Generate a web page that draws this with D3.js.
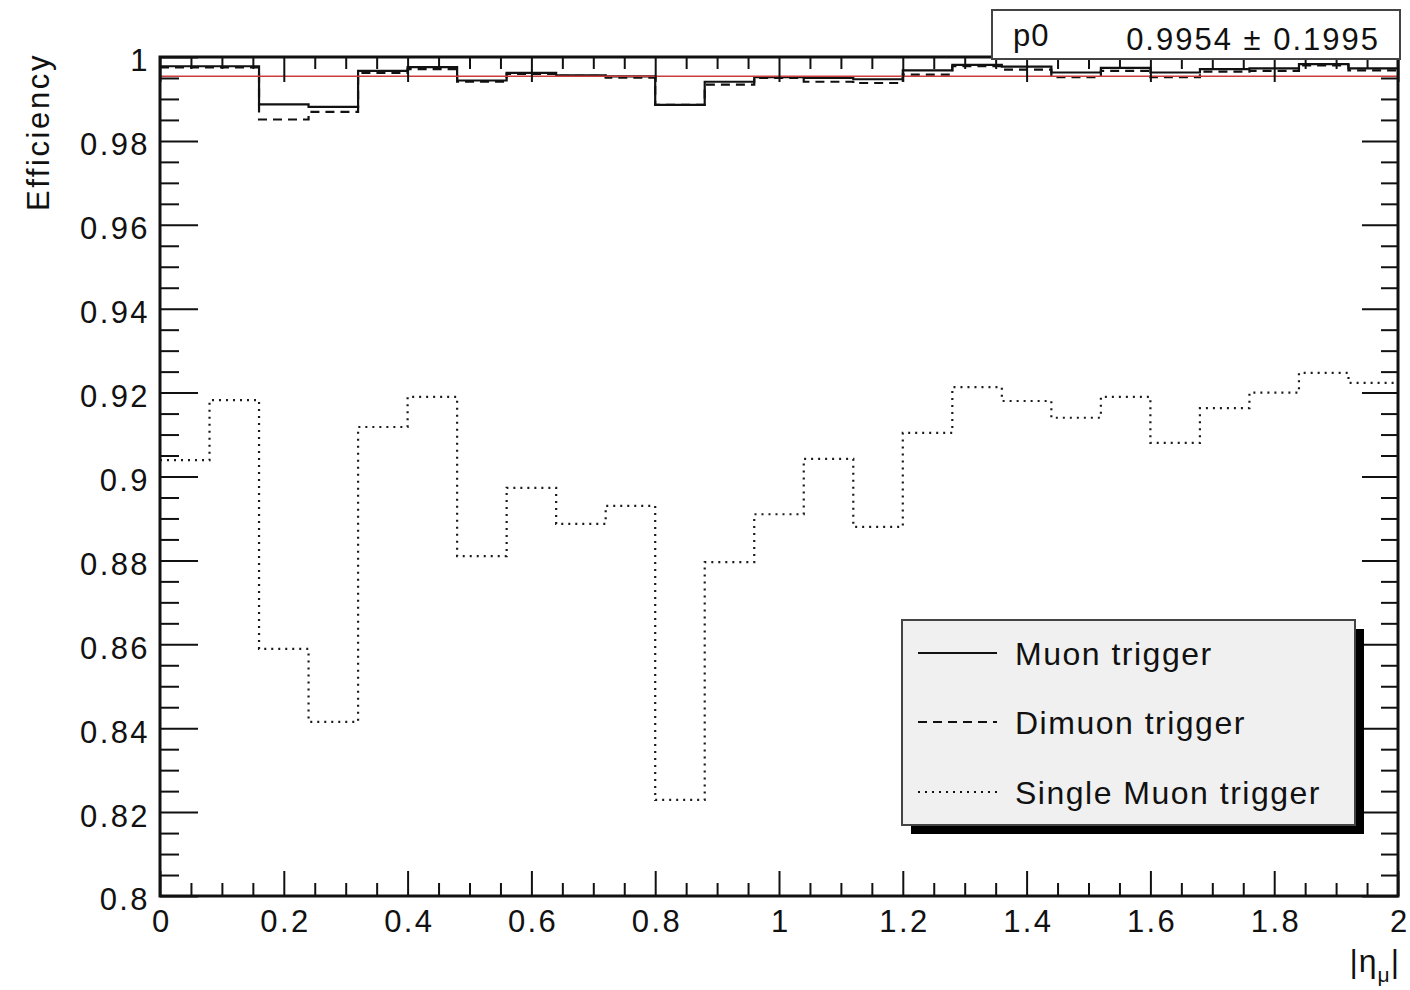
<!DOCTYPE html>
<html>
<head>
<meta charset="utf-8">
<script src="https://cdn.jsdelivr.net/npm/d3@7"></script>
<style>
  html, body { margin: 0; padding: 0; background: #fff; }
  svg text { font-family: "Liberation Sans", Arial, Helvetica, sans-serif; fill: #111; }
</style>
</head>
<body>
<svg id="chart" width="1410" height="990"></svg>
<script>
// ---------------- data ----------------
const binEdges = [0,0.08,0.16,0.24,0.32,0.40,0.48,0.56,0.64,0.72,0.80,0.88,0.96,1.04,1.12,1.20,1.28,1.36,1.44,1.52,1.60,1.68,1.76,1.84,1.92,2.00];
const muonTrigger = [0.9978,0.9978,0.9887,0.9881,0.9967,0.9976,0.9944,0.9962,0.9956,0.9954,0.9886,0.9941,0.9952,0.9950,0.9947,0.9968,0.9981,0.9977,0.9963,0.9974,0.9963,0.9971,0.9973,0.9983,0.9973];
const dimuonTrigger = [0.9975,0.9975,0.9851,0.9869,0.9962,0.9971,0.9941,0.9960,0.9955,0.9951,0.9886,0.9934,0.9950,0.9941,0.9938,0.9958,0.9978,0.9970,0.9952,0.9967,0.9952,0.9965,0.9967,0.9980,0.9968];
const singleMuonTrigger = [0.9039,0.9182,0.8589,0.8415,0.9118,0.9190,0.8810,0.8973,0.8887,0.8930,0.8229,0.8796,0.8910,0.9042,0.8880,0.9104,0.9213,0.9180,0.9140,0.9190,0.9080,0.9163,0.9200,0.9247,0.9223];
const fitP0 = 0.9954;
const fitP0Err = 0.1995;
const xMajorTicks = [0,0.2,0.4,0.6,0.8,1.0,1.2,1.4,1.6,1.8,2.0];
const xTickLabels = ["0","0.2","0.4","0.6","0.8","1","1.2","1.4","1.6","1.8","2"];
const yMajorTicks = [0.80,0.82,0.84,0.86,0.88,0.90,0.92,0.94,0.96,0.98,1.00];
const yTickLabels = ["0.8","0.82","0.84","0.86","0.88","0.9","0.92","0.94","0.96","0.98","1"];
const seriesNames = ["Muon trigger","Dimuon trigger","Single Muon trigger"];
const xTitle = "|η";
const xTitleSub = "μ";
const yTitle = "Efficiency";

// ---------------- layout ----------------
const L = 160, R = 1398, T = 57, B = 896;
const svg = d3.select("#chart");
const x = d3.scaleLinear().domain([0, 2]).range([L, R]);
const y = d3.scaleLinear().domain([0.8, 1.0]).range([B, T]);

const FONT = 31, LS = 2.4;

const xMinor = d3.range(0, 41).map(i => +(i * 0.05).toFixed(3)).filter(v => !xMajorTicks.some(m => Math.abs(m - v) < 1e-6));
const yMinor = d3.range(0, 41).map(i => +(0.8 + i * 0.005).toFixed(4)).filter(v => !yMajorTicks.some(m => Math.abs(m - v) < 1e-6));

// ---------------- histograms ----------------
function stepPoints(vals) {
  const pts = vals.map((v, i) => [binEdges[i], v]);
  pts.push([binEdges[binEdges.length - 1], vals[vals.length - 1]]);
  return pts;
}
const stepLine = d3.line().x(d => x(d[0])).y(d => y(d[1])).curve(d3.curveStepAfter);

const plot = svg.append("g");
plot.append("path").attr("d", stepLine(stepPoints(singleMuonTrigger)))
  .attr("fill", "none").attr("stroke", "#1a1a1a").attr("stroke-width", 2.2)
  .attr("stroke-dasharray", "2 5");
plot.append("path").attr("d", stepLine(stepPoints(dimuonTrigger)))
  .attr("fill", "none").attr("stroke", "#111").attr("stroke-width", 2.2)
  .attr("stroke-dasharray", "9 6");
plot.append("path").attr("d", stepLine(stepPoints(muonTrigger)))
  .attr("fill", "none").attr("stroke", "#111").attr("stroke-width", 2.2);

plot.append("line")
  .attr("x1", x(0)).attr("x2", x(2)).attr("y1", y(fitP0)).attr("y2", y(fitP0))
  .attr("stroke", "#cc3d3d").attr("stroke-width", 1.6);

// ---------------- axes ----------------
function styleAxis(g) {
  g.select(".domain").remove();
  g.selectAll(".tick line").attr("stroke", "#111").attr("stroke-width", 2);
  g.selectAll(".tick text").style("font-size", FONT + "px").style("letter-spacing", LS + "px").attr("fill", "#111");
}
const gB = svg.append("g").attr("transform", `translate(0,${B})`)
  .call(d3.axisBottom(x).tickValues(xMajorTicks).tickSize(-25).tickPadding(14)
    .tickFormat((d, i) => xTickLabels[i]));
styleAxis(gB);
gB.selectAll(".tick text").attr("dx", LS / 2);
const gBm = svg.append("g").attr("transform", `translate(0,${B})`)
  .call(d3.axisBottom(x).tickValues(xMinor).tickSize(-13).tickFormat(""));
styleAxis(gBm);
const gT = svg.append("g").attr("transform", `translate(0,${T})`)
  .call(d3.axisTop(x).tickValues(xMajorTicks).tickSize(-25).tickFormat(""));
styleAxis(gT);
const gTm = svg.append("g").attr("transform", `translate(0,${T})`)
  .call(d3.axisTop(x).tickValues(xMinor).tickSize(-12).tickFormat(""));
styleAxis(gTm);
const gL = svg.append("g").attr("transform", `translate(${L},0)`)
  .call(d3.axisLeft(y).tickValues(yMajorTicks).tickSize(-38).tickPadding(10)
    .tickFormat((d, i) => yTickLabels[i]));
styleAxis(gL);
gL.selectAll(".tick text").attr("y", 4);
const gLm = svg.append("g").attr("transform", `translate(${L},0)`)
  .call(d3.axisLeft(y).tickValues(yMinor).tickSize(-19).tickFormat(""));
styleAxis(gLm);
const gR = svg.append("g").attr("transform", `translate(${R},0)`)
  .call(d3.axisRight(y).tickValues(yMajorTicks).tickSize(-36).tickFormat(""));
styleAxis(gR);
const gRm = svg.append("g").attr("transform", `translate(${R},0)`)
  .call(d3.axisRight(y).tickValues(yMinor).tickSize(-17).tickFormat(""));
styleAxis(gRm);

svg.append("rect").attr("x", L).attr("y", T).attr("width", R - L).attr("height", B - T)
  .attr("fill", "none").attr("stroke", "#111").attr("stroke-width", 3);

// axis titles
svg.append("text").attr("transform", `translate(49,${T - 4}) rotate(-90)`)
  .attr("text-anchor", "end").style("font-size", FONT + "px").style("letter-spacing", "2.6px")
  .text(yTitle);
const xt = svg.append("text").attr("x", R + 2).attr("y", 972).attr("text-anchor", "end")
  .style("font-size", "32px").style("letter-spacing", "1px");
xt.append("tspan").text(xTitle);
xt.append("tspan").attr("dy", 10).style("font-size", "21px").text(xTitleSub);
xt.append("tspan").attr("dy", -10).text("|");

// ---------------- stats box ----------------
const sb = svg.append("g");
sb.append("rect").attr("x", 992).attr("y", 10).attr("width", 408).attr("height", 49)
  .attr("fill", "#fff").attr("stroke", "#444").attr("stroke-width", 2);
sb.append("text").attr("x", 1013).attr("y", 46).style("font-size", FONT + "px")
  .style("letter-spacing", "1px").text("p0");
sb.append("text").attr("x", 1380).attr("y", 50).attr("text-anchor", "end")
  .style("font-size", FONT + "px").style("letter-spacing", "2px")
  .text(`${fitP0.toFixed(4)} ± ${fitP0Err.toFixed(4)}`);

// ---------------- legend ----------------
const lg = svg.append("g");
const lgX = 902, lgY = 620, lgW = 453, lgH = 205, sh = 9;
lg.append("rect").attr("x", lgX + sh).attr("y", lgY + sh).attr("width", lgW).attr("height", lgH).attr("fill", "#000");
lg.append("rect").attr("x", lgX).attr("y", lgY).attr("width", lgW).attr("height", lgH)
  .attr("fill", "#f0f0f0").attr("stroke", "#444").attr("stroke-width", 2);
const rowsY = [653, 722, 792];
const dashes = [null, "9 6", "2 5"];
seriesNames.forEach((name, i) => {
  const ln = lg.append("line").attr("x1", 918).attr("x2", 997).attr("y1", rowsY[i]).attr("y2", rowsY[i])
    .attr("stroke", "#111").attr("stroke-width", 2);
  if (dashes[i]) ln.attr("stroke-dasharray", dashes[i]);
  lg.append("text").attr("x", 1015).attr("y", rowsY[i]).attr("dy", "0.36em")
    .style("font-size", "32px").style("letter-spacing", "1.5px").text(name);
});
</script>
</body>
</html>
